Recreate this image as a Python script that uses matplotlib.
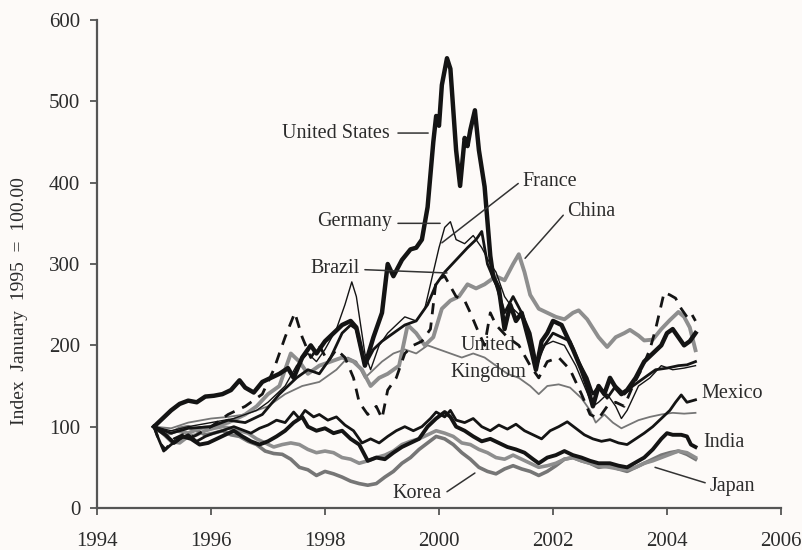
import matplotlib
matplotlib.use("Agg")
import matplotlib.pyplot as plt

# Stock market indices, January 1995 = 100
us_t = [1995.0, 1995.15, 1995.3, 1995.45, 1995.6, 1995.75, 1995.9, 1996.05, 1996.2, 1996.35,
        1996.5, 1996.6, 1996.75, 1996.9, 1997.05, 1997.2, 1997.35, 1997.45, 1997.6, 1997.75,
        1997.85, 1998.0, 1998.15, 1998.3, 1998.45, 1998.55, 1998.7, 1998.85, 1999.0, 1999.1,
        1999.2, 1999.35, 1999.5, 1999.6, 1999.7, 1999.8, 1999.9, 1999.95, 2000.0, 2000.05,
        2000.14, 2000.2, 2000.3, 2000.37, 2000.45, 2000.5, 2000.55, 2000.63, 2000.7, 2000.8,
        2000.9, 2000.95, 2001.05, 2001.15, 2001.25, 2001.35, 2001.45, 2001.6, 2001.7, 2001.8,
        2001.9, 2002.0, 2002.15, 2002.25, 2002.35, 2002.5, 2002.6, 2002.7, 2002.8, 2002.9,
        2003.0, 2003.1, 2003.2, 2003.3, 2003.45, 2003.6, 2003.75, 2003.9, 2004.0, 2004.1,
        2004.2, 2004.3, 2004.4, 2004.5]
us_v = [100, 110, 120, 128, 132, 130, 137, 138, 140, 145,
        157, 148, 142, 155, 160, 165, 172, 160, 185, 200,
        190, 205, 215, 225, 230, 222, 175, 210, 240, 300,
        285, 305, 318, 320, 330, 370, 450, 482, 470, 520,
        553, 540, 440, 396, 455, 445, 465, 489, 440, 395,
        310, 285, 270, 220, 250, 230, 240, 200, 170, 205,
        215, 230, 225, 210, 195, 170, 150, 125, 150, 140,
        160, 148, 140, 145, 160, 180, 190, 200, 215, 220,
        210, 200, 205, 215]

germany_t = [1995.0, 1995.3, 1995.6, 1996.0, 1996.4, 1996.8, 1997.0, 1997.3, 1997.5, 1997.7,
             1997.85, 1998.0, 1998.2, 1998.35, 1998.47, 1998.55, 1998.7, 1998.8, 1998.95, 1999.1,
             1999.25, 1999.4, 1999.6, 1999.75, 1999.9, 2000.0, 2000.1, 2000.2, 2000.3, 2000.45,
             2000.6, 2000.75, 2000.9, 2001.0, 2001.15, 2001.3, 2001.45, 2001.6, 2001.7, 2001.85,
             2002.0, 2002.2, 2002.4, 2002.55, 2002.7, 2002.8, 2002.95, 2003.1, 2003.2, 2003.3,
             2003.5, 2003.7, 2003.9, 2004.1, 2004.3, 2004.5]
germany_v = [100, 95, 100, 105, 110, 120, 130, 150, 175, 190,
             180, 195, 220, 250, 278, 260, 190, 170, 200, 215,
             225, 235, 230, 245, 290, 320, 345, 352, 330, 325,
             335, 320, 300, 290, 260, 245, 235, 200, 170, 200,
             205, 200, 175, 150, 125, 130, 140, 125, 110, 120,
             150, 160, 175, 170, 172, 175]

france_t = [1995.0, 1995.3, 1995.6, 1996.0, 1996.3, 1996.6, 1996.9, 1997.2, 1997.5, 1997.7,
            1997.9, 1998.1, 1998.3, 1998.45, 1998.55, 1998.7, 1998.85, 1999.0, 1999.2, 1999.4,
            1999.6, 1999.8, 1999.95, 2000.1, 2000.3, 2000.5, 2000.65, 2000.75, 2000.85, 2001.0,
            2001.15, 2001.3, 2001.45, 2001.6, 2001.7, 2001.85, 2002.0, 2002.15, 2002.3, 2002.45,
            2002.6, 2002.7, 2002.8, 2002.95, 2003.1, 2003.25, 2003.4, 2003.6, 2003.8, 2004.0,
            2004.2, 2004.35, 2004.5]
france_v = [100, 92, 98, 100, 108, 105, 115, 140, 160, 170,
            165, 185, 215, 225, 220, 175, 195, 205, 215, 225,
            230, 250, 275, 290, 305, 320, 330, 340, 300, 275,
            240, 260, 240, 215, 180, 200, 215, 210, 205, 180,
            160, 140, 150, 135, 150, 140, 150, 160, 170, 172,
            175, 176, 180]

brazil_t = [1995.0, 1995.1, 1995.2, 1995.35, 1995.5, 1995.7, 1996.0, 1996.3, 1996.6, 1996.9,
            1997.1, 1997.3, 1997.47, 1997.6, 1997.75, 1997.9, 1998.05, 1998.2, 1998.35, 1998.5,
            1998.6, 1998.75, 1998.9, 1999.0, 1999.1, 1999.25, 1999.4, 1999.55, 1999.7, 1999.85,
            1999.95, 2000.1, 2000.3, 2000.45, 2000.55, 2000.7, 2000.8, 2000.9, 2001.0, 2001.2,
            2001.4, 2001.6, 2001.75, 2001.9, 2002.1, 2002.3, 2002.5, 2002.65, 2002.8, 2002.95,
            2003.1, 2003.25, 2003.4, 2003.55, 2003.7, 2003.8, 2003.9, 2003.95, 2004.05, 2004.15,
            2004.25, 2004.35, 2004.42, 2004.5]
brazil_v = [100, 80, 72, 85, 90, 88, 100, 115, 125, 140,
            170, 210, 240, 210, 185, 200, 180, 195, 185, 160,
            130, 115, 125, 110, 145, 160, 190, 200, 205, 220,
            280, 285, 260, 255, 240, 215, 200, 240, 225, 210,
            200, 175, 160, 180, 185, 170, 140, 115, 110, 125,
            130, 125, 150, 170, 195, 220, 250, 265, 262, 258,
            245, 235, 240, 230]

china_t = [1995.0, 1995.2, 1995.4, 1995.6, 1995.8, 1996.0, 1996.3, 1996.6, 1996.8, 1997.0,
           1997.2, 1997.4, 1997.55, 1997.7, 1997.9, 1998.1, 1998.3, 1998.5, 1998.65, 1998.8,
           1998.95, 1999.1, 1999.3, 1999.45, 1999.6, 1999.75, 1999.9, 2000.05, 2000.2, 2000.35,
           2000.5, 2000.65, 2000.8, 2001.0, 2001.15, 2001.3, 2001.4, 2001.5, 2001.6, 2001.75,
           2001.9, 2002.05, 2002.2, 2002.35, 2002.45, 2002.6, 2002.8, 2002.95, 2003.1, 2003.25,
           2003.35, 2003.5, 2003.6, 2003.75, 2003.9, 2004.05, 2004.2, 2004.3, 2004.4, 2004.5]
china_v = [100, 90, 95, 92, 98, 100, 105, 115, 125, 140,
           150, 190, 180, 165, 175, 180, 185, 180, 170, 150,
           160, 165, 175, 225, 215, 200, 210, 245, 255, 260,
           275, 270, 275, 285, 280, 300, 312, 290, 262, 245,
           240, 235, 232, 240, 243, 232, 210, 198, 210, 215,
           219, 212, 206, 207, 220, 231, 241, 235, 222, 194]

uk_t = [1995.0, 1995.3, 1995.6, 1996.0, 1996.3, 1996.6, 1997.0, 1997.3, 1997.6, 1997.9,
        1998.2, 1998.4, 1998.55, 1998.7, 1998.85, 1999.0, 1999.2, 1999.4, 1999.6, 1999.8,
        2000.0, 2000.2, 2000.4, 2000.6, 2000.8, 2001.0, 2001.2, 2001.4, 2001.6, 2001.75,
        2001.9, 2002.1, 2002.3, 2002.5, 2002.65, 2002.75, 2002.9, 2003.05, 2003.2, 2003.35,
        2003.5, 2003.7, 2003.9, 2004.1, 2004.3, 2004.5]
uk_v = [100, 98, 105, 110, 112, 115, 125, 140, 150, 155,
        170, 185, 180, 160, 170, 180, 190, 195, 190, 200,
        195, 190, 185, 190, 185, 175, 165, 160, 150, 140,
        150, 152, 148, 135, 120, 105, 115, 105, 98, 103,
        108, 112, 115, 117, 116, 117]

mexico_t = [1995.0, 1995.08, 1995.17, 1995.3, 1995.45, 1995.6, 1995.75, 1995.9, 1996.05, 1996.2,
            1996.4, 1996.55, 1996.7, 1996.85, 1997.0, 1997.15, 1997.3, 1997.45, 1997.55, 1997.65,
            1997.8, 1997.9, 1998.05, 1998.2, 1998.35, 1998.5, 1998.65, 1998.8, 1998.95, 1999.1,
            1999.25, 1999.4, 1999.55, 1999.7, 1999.85, 1999.95, 2000.1, 2000.2, 2000.3, 2000.45,
            2000.6, 2000.75, 2000.9, 2001.05, 2001.2, 2001.35, 2001.5, 2001.65, 2001.8, 2001.95,
            2002.1, 2002.25, 2002.4, 2002.55, 2002.7, 2002.85, 2003.0, 2003.15, 2003.3, 2003.45,
            2003.6, 2003.75, 2003.9, 2004.05, 2004.15, 2004.25, 2004.35, 2004.5]
mexico_v = [100, 85, 70, 78, 85, 90, 82, 88, 92, 95,
            100, 96, 92, 98, 102, 108, 105, 118, 110, 120,
            112, 115, 108, 112, 102, 95, 80, 85, 80, 88,
            95, 100, 95, 100, 110, 118, 112, 120, 108, 105,
            110, 100, 95, 102, 97, 103, 95, 90, 85, 95,
            100, 106, 98, 90, 85, 82, 84, 80, 78, 85,
            92, 100, 110, 120, 130, 139, 130, 133]

india_t = [1995.0, 1995.1, 1995.2, 1995.35, 1995.5, 1995.65, 1995.8, 1995.95, 1996.1, 1996.25,
           1996.4, 1996.55, 1996.7, 1996.85, 1997.0, 1997.15, 1997.3, 1997.45, 1997.6, 1997.7,
           1997.85, 1998.0, 1998.15, 1998.3, 1998.45, 1998.6, 1998.75, 1998.9, 1999.05, 1999.2,
           1999.35, 1999.5, 1999.65, 1999.8, 1999.95, 2000.1, 2000.2, 2000.3, 2000.45, 2000.6,
           2000.75, 2000.9, 2001.05, 2001.2, 2001.35, 2001.5, 2001.65, 2001.75, 2001.9, 2002.05,
           2002.2, 2002.35, 2002.5, 2002.65, 2002.8, 2003.0, 2003.15, 2003.3, 2003.45, 2003.6,
           2003.75, 2003.9, 2004.0, 2004.1, 2004.25, 2004.35, 2004.42, 2004.5]
india_v = [100, 95, 90, 80, 88, 85, 78, 80, 85, 90,
           95, 88, 82, 78, 82, 88, 95, 105, 112, 100,
           95, 98, 92, 95, 85, 78, 58, 62, 60, 68,
           75, 80, 85, 100, 110, 118, 112, 100, 95, 88,
           82, 85, 80, 75, 72, 68, 60, 55, 62, 65,
           70, 65, 62, 58, 55, 55, 52, 50, 56, 62,
           72, 85, 92, 90, 90, 88, 78, 75]

japan_t = [1995.0, 1995.15, 1995.3, 1995.45, 1995.6, 1995.75, 1995.9, 1996.05, 1996.2, 1996.35,
           1996.5, 1996.65, 1996.8, 1996.95, 1997.1, 1997.25, 1997.4, 1997.55, 1997.7, 1997.85,
           1998.0, 1998.15, 1998.3, 1998.45, 1998.6, 1998.75, 1998.9, 1999.05, 1999.2, 1999.35,
           1999.5, 1999.65, 1999.8, 1999.95, 2000.1, 2000.25, 2000.4, 2000.55, 2000.7, 2000.85,
           2001.0, 2001.15, 2001.3, 2001.45, 2001.6, 2001.75, 2001.9, 2002.05, 2002.2, 2002.35,
           2002.5, 2002.65, 2002.8, 2003.0, 2003.15, 2003.3, 2003.45, 2003.6, 2003.75, 2003.9,
           2004.05, 2004.2, 2004.35, 2004.5]
japan_v = [100, 92, 82, 80, 88, 90, 95, 98, 100, 98,
           95, 92, 85, 80, 75, 78, 80, 78, 72, 68,
           70, 68, 62, 60, 55, 58, 62, 65, 70, 78,
           82, 85, 90, 95, 92, 88, 80, 78, 72, 68,
           62, 60, 65, 60, 55, 50, 52, 55, 60, 62,
           58, 55, 52, 50, 48, 47, 50, 55, 58, 62,
           66, 70, 68, 62]

korea_t = [1995.0, 1995.15, 1995.3, 1995.45, 1995.6, 1995.75, 1995.9, 1996.05, 1996.2, 1996.35,
           1996.5, 1996.65, 1996.8, 1996.95, 1997.1, 1997.25, 1997.4, 1997.55, 1997.7, 1997.85,
           1998.0, 1998.15, 1998.3, 1998.45, 1998.6, 1998.75, 1998.9, 1999.05, 1999.2, 1999.35,
           1999.5, 1999.65, 1999.8, 1999.95, 2000.1, 2000.25, 2000.4, 2000.55, 2000.7, 2000.85,
           2001.0, 2001.15, 2001.3, 2001.45, 2001.6, 2001.75, 2001.9, 2002.05, 2002.2, 2002.35,
           2002.5, 2002.65, 2002.8, 2003.0, 2003.15, 2003.3, 2003.45, 2003.6, 2003.75, 2003.9,
           2004.05, 2004.2, 2004.35, 2004.5]
korea_v = [100, 95, 92, 98, 100, 95, 90, 92, 95, 90,
           88, 82, 78, 70, 67, 66, 60, 50, 47, 40,
           45, 42, 38, 33, 30, 28, 30, 38, 45, 55,
           62, 72, 80, 88, 85, 78, 68, 60, 50, 45,
           42, 48, 52, 48, 45, 40, 45, 52, 60, 62,
           58, 55, 50, 52, 48, 45, 50, 55, 60, 65,
           68, 70, 66, 60]

x_ticks = [1994, 1996, 1998, 2000, 2002, 2004, 2006]
y_ticks = [0, 100, 200, 300, 400, 500, 600]

BLACK = "#141414"
GRAY = "#8e8e8e"
DGRAY = "#767676"
TXT = "#2b2b2b"
BG = "#fdfaf8"

plt.rcParams["font.family"] = ["Liberation Serif", "DejaVu Serif"]

fig = plt.figure(figsize=(8.02, 5.5), dpi=100, facecolor=BG)
ax = fig.add_axes([97 / 802, 42 / 550, 684 / 802, 488 / 550], facecolor=BG)

# gray series underneath, black series on top
ax.plot(korea_t, korea_v, color=DGRAY, lw=2.6, solid_joinstyle="round")
ax.plot(japan_t, japan_v, color=GRAY, lw=2.6, solid_joinstyle="round")
ax.plot(uk_t, uk_v, color=DGRAY, lw=1.3)
ax.plot(china_t, china_v, color=GRAY, lw=2.8, solid_joinstyle="round")
ax.plot(brazil_t, brazil_v, color=BLACK, lw=2.0, ls=(0, (4, 3)))
ax.plot(germany_t, germany_v, color=BLACK, lw=1.0)
ax.plot(mexico_t, mexico_v, color=BLACK, lw=2.0)
ax.plot(india_t, india_v, color=BLACK, lw=2.8)
ax.plot(france_t, france_v, color=BLACK, lw=2.0)
ax.plot(us_t, us_v, color=BLACK, lw=3.2, solid_joinstyle="round")

ax.set_xlim(1994, 2006)
ax.set_ylim(0, 600)
ax.set_xticks(x_ticks)
ax.set_yticks(y_ticks)
for s in ("top", "right"):
    ax.spines[s].set_visible(False)
for s in ("left", "bottom"):
    ax.spines[s].set_color("#555555")
    ax.spines[s].set_linewidth(1.6)
ax.tick_params(axis="both", colors="#555555", labelcolor=TXT, labelsize=15,
               length=5, width=1.3, direction="out")
ax.tick_params(axis="x", pad=12)
ax.tick_params(axis="y", pad=7)

fig.text(20 / 802, 1 - 301 / 550, "Index  January  1995  =  100.00", rotation=90,
         ha="center", va="center", fontsize=14, color=TXT)

lead = dict(arrowstyle="-", color="#333333", lw=1.1, shrinkA=0, shrinkB=0)
fs = 14.5

ax.text(1999.14, 460, "United States", ha="right", va="center", fontsize=fs, color=TXT)
ax.annotate("", xy=(1999.81, 461), xytext=(1999.28, 461), arrowprops=lead)

ax.text(1999.18, 352, "Germany", ha="right", va="center", fontsize=fs, color=TXT)
ax.annotate("", xy=(2000.02, 350), xytext=(1999.28, 350), arrowprops=lead)

ax.text(1998.61, 294, "Brazil", ha="right", va="center", fontsize=fs, color=TXT)
ax.annotate("", xy=(2000.14, 289), xytext=(1998.70, 293), arrowprops=lead)

ax.text(2001.47, 401, "France", ha="left", va="center", fontsize=fs, color=TXT)
ax.annotate("", xy=(2000.05, 326), xytext=(2001.39, 399), arrowprops=lead)

ax.text(2002.25, 365, "China", ha="left", va="center", fontsize=fs, color=TXT)
ax.annotate("", xy=(2001.51, 307), xytext=(2002.18, 360), arrowprops=lead)

ax.text(2000.86, 200, "United", ha="center", va="center", fontsize=fs, color=TXT)
ax.text(2000.86, 167, "Kingdom", ha="center", va="center", fontsize=fs, color=TXT)

ax.text(2004.61, 141, "Mexico", ha="left", va="center", fontsize=fs, color=TXT)
ax.text(2004.63, 81, "India", ha="left", va="center", fontsize=fs, color=TXT)

ax.text(2004.75, 26, "Japan", ha="left", va="center", fontsize=fs, color=TXT)
ax.annotate("", xy=(2003.79, 50), xytext=(2004.67, 31), arrowprops=lead)

ax.text(2000.05, 18, "Korea", ha="right", va="center", fontsize=fs, color=TXT)
ax.annotate("", xy=(2000.63, 43), xytext=(2000.14, 20), arrowprops=lead)

fig.savefig("out.png", dpi=100, facecolor=BG)
